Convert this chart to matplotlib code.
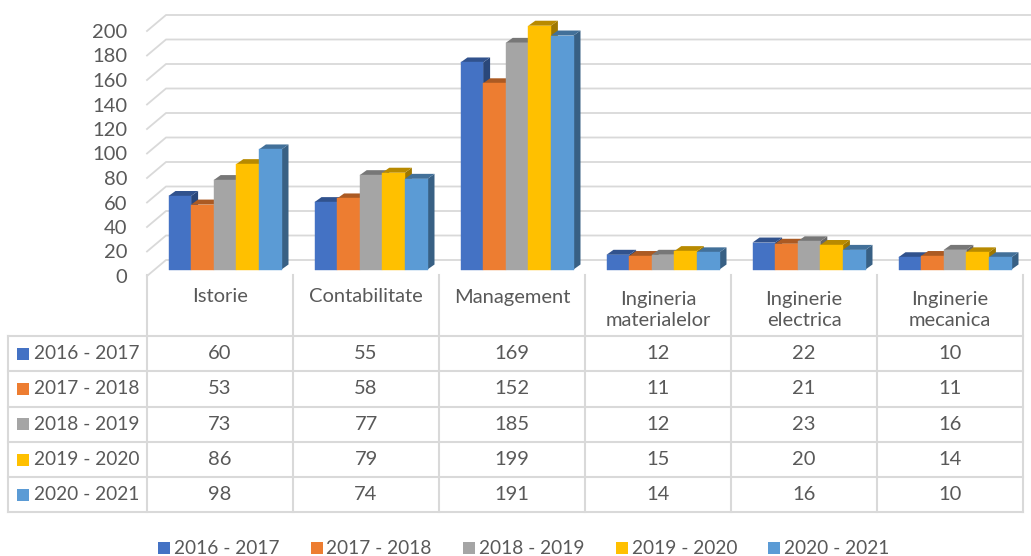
import matplotlib.pyplot as plt
import numpy as np
from matplotlib.patches import Polygon, Rectangle

plt.rcParams['font.family'] = ['Lato', 'DejaVu Sans']

categories = ['Istorie', 'Contabilitate', 'Management',
              'Ingineria\nmaterialelor', 'Inginerie\nelectrica', 'Inginerie\nmecanica']
series = ['2016 - 2017', '2017 - 2018', '2018 - 2019', '2019 - 2020', '2020 - 2021']
v2016 = [60, 55, 169, 12, 22, 10]
v2017 = [53, 58, 152, 11, 21, 11]
v2018 = [73, 77, 185, 12, 23, 16]
v2019 = [86, 79, 199, 15, 20, 14]
v2020 = [98, 74, 191, 14, 16, 10]
values = [v2016, v2017, v2018, v2019, v2020]
colors = ['#4472C4', '#ED7D31', '#A5A5A5', '#FFC000', '#5B9BD5']
yticks = list(range(0, 201, 20))

W, H = 1031, 556
fig = plt.figure(figsize=(W / 100, H / 100), dpi=100)

# pixel overlay for the data table and legend
ov = fig.add_axes([0, 0, 1, 1])
ov.set_xlim(0, W)
ov.set_ylim(H, 0)
ov.axis('off')

# chart axes: front plane of the pseudo 3D box
x0, x1 = 147, 1023
y0, ytop = 276, 31
ax = fig.add_axes([x0 / W, (H - y0) / H, (x1 - x0) / W, (y0 - ytop) / H])
ax.set_xlim(-0.5, 5.5)
ax.set_ylim(0, 200)
ax.set_frame_on(False)
ax.set_xticks([])
ax.set_yticks(yticks)
ax.tick_params(axis='y', length=0, pad=14, labelsize=14.5, labelcolor='#595959')

colw = (x1 - x0) / 6.0
pxu = (y0 - ytop) / 200.0
def dxp(p):
    return p / colw
def dyp(p):
    return p / pxu

grid_c = '#D9D9D9'
DX, DY = dxp(19), dyp(16)
xright = dxp(W - x0) - 0.5
for v in yticks:
    ax.plot([-0.5, -0.5 + DX, xright], [v, v + DY, v + DY],
            color=grid_c, lw=1.3, clip_on=False, zorder=1)

def shade(c, f):
    r, g, b = [int(c[i:i + 2], 16) / 255 for i in (1, 3, 5)]
    return (r * f, g * f, b * f)

group = dxp(113)
bw = group / 5
fx, fy = dxp(5), dyp(6.5)
sx, sy = dxp(7), dyp(5)
z = 2
for i in range(len(categories)):
    for j in range(len(series)):
        v = values[j][i]
        xl = i - group / 2 + j * bw + fx
        xr = xl + bw
        yb, yt = fy, v + fy
        c = colors[j]
        side = Polygon([(xr, yb), (xr + sx, yb + sy), (xr + sx, yt + sy), (xr, yt)],
                       closed=True, fc=shade(c, 0.62), ec='none', zorder=z, clip_on=False)
        top = Polygon([(xl, yt), (xl + sx, yt + sy), (xr + sx, yt + sy), (xr, yt)],
                      closed=True, fc=shade(c, 0.72), ec='none', zorder=z, clip_on=False)
        front = Rectangle((xl, yb), bw, v, fc=c, ec=c, lw=0.3, zorder=z + 1, clip_on=False)
        ax.add_patch(side)
        ax.add_patch(top)
        ax.add_patch(front)
        z += 2

# data table
txt_c = '#595959'
fs = 14.5
fs_ser = 13.8
cols = [x0 + k * colw for k in range(7)]
rows = [336, 371, 406.5, 442, 477, 512]
lc = '#D9D9D9'
for xc in cols:
    ov.plot([xc, xc], [275, rows[-1]], color=lc, lw=1.5)
ov.plot([8, 8], [rows[0], rows[-1]], color=lc, lw=1.5)
for yr in rows:
    ov.plot([8, x1], [yr, yr], color=lc, lw=1.5)

for i, cat in enumerate(categories):
    cx = x0 + (i + 0.5) * colw
    if '\n' in cat:
        ov.text(cx, 310, cat, ha='center', va='center', fontsize=fs, color=txt_c,
                linespacing=1.25)
    else:
        ov.text(cx, 297, cat, ha='center', va='center', fontsize=fs, color=txt_c)

for j, name in enumerate(series):
    yc = (rows[j] + rows[j + 1]) / 2
    ov.add_patch(Rectangle((17, yc - 6), 12, 12, fc=colors[j], ec='none'))
    ov.text(34, yc, name, ha='left', va='center', fontsize=fs_ser, color=txt_c)
    for i in range(len(categories)):
        cx = x0 + (i + 0.5) * colw
        ov.text(cx, yc, str(values[j][i]), ha='center', va='center', fontsize=fs, color=txt_c)

# legend
for j, name in enumerate(series):
    lx = 158 + j * 152.5
    ov.add_patch(Rectangle((lx, 542), 12, 12, fc=colors[j], ec='none'))
    ov.text(lx + 16, 548, name, ha='left', va='center', fontsize=fs_ser, color=txt_c)

fig.savefig('out.png', dpi=100)
